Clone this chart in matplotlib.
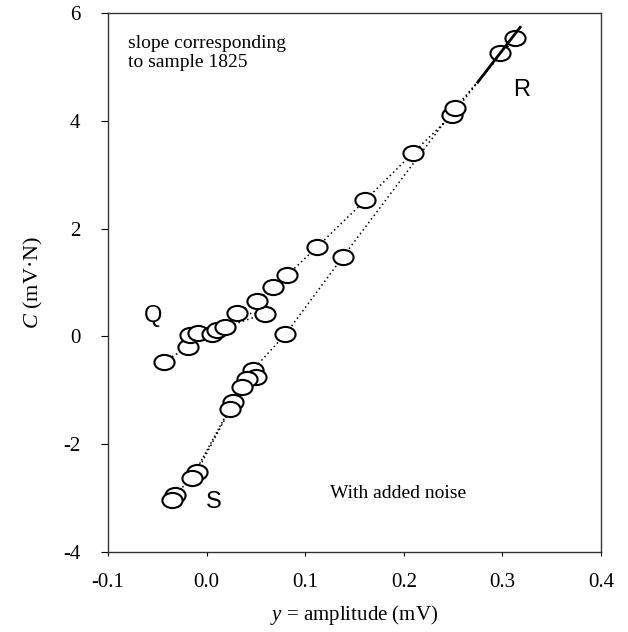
import numpy as np
import matplotlib
matplotlib.use("Agg")
import matplotlib.pyplot as plt
from matplotlib.path import Path
from matplotlib.transforms import Affine2D

# amplitude y (mV) and C (mV*N), in the order the dotted line joins them
amp = [-0.043, -0.019, -0.017, -0.009, 0.005, 0.011, 0.019, 0.059, 0.031,
       0.051, 0.067, 0.082, 0.112, 0.161, 0.209, 0.249, 0.298, 0.313,
       0.252, 0.138, 0.080, 0.047, 0.050, 0.041, 0.036, 0.027, 0.024,
       -0.010, -0.015, -0.032, -0.035]
cval = [-0.47, -0.20, 0.03, 0.06, 0.04, 0.12, 0.17, 0.42, 0.43,
        0.66, 0.92, 1.14, 1.66, 2.53, 3.40, 4.11, 5.26, 5.54,
        4.24, 1.47, 0.04, -0.62, -0.75, -0.80, -0.94, -1.22, -1.35,
        -2.52, -2.63, -2.94, -3.04]

# second dotted trace through the S segment
amp2 = [0.027, -0.015]
cval2 = [-1.22, -2.63]

# slope for sample 1825
slope_x = [0.275, 0.318]
slope_y = [4.72, 5.74]

xticks = [-0.1, 0.0, 0.1, 0.2, 0.3, 0.4]
yticks = [-4, -2, 0, 2, 4, 6]

plt.rcParams['font.family'] = ['Liberation Serif', 'DejaVu Serif']
plt.rcParams['mathtext.fontset'] = 'custom'
plt.rcParams['mathtext.rm'] = 'Liberation Serif'
plt.rcParams['mathtext.it'] = 'Liberation Serif:italic'
plt.rcParams['axes.unicode_minus'] = False

fig = plt.figure(figsize=(6.28, 6.32), dpi=100)
ax = fig.add_axes([0.172, 0.127, 0.785, 0.852])

ellipse = Path(Affine2D().scale(1.33, 1.0).transform(Path.unit_circle().vertices),
               Path.unit_circle().codes)

ax.plot(amp, cval, color='black', linestyle=(0, (1, 2)), linewidth=1.1, zorder=1)
ax.plot(amp2, cval2, color='black', linestyle=(0, (1, 1.5)), linewidth=1.1, zorder=1)
ax.plot(amp, cval, linestyle='none', marker=ellipse, markersize=14.5,
        markerfacecolor='white', markeredgecolor='black', markeredgewidth=1.5, zorder=2)
ax.plot(slope_x, slope_y, color='black', linewidth=2, zorder=3)

ax.text(0.319, 4.57, 'R', fontsize=17, family='Liberation Sans', ha='center', va='center')
ax.text(-0.054, 0.38, 'Q', fontsize=17, family='Liberation Sans', ha='center', va='center')
ax.text(0.007, -3.07, 'S', fontsize=17, family='Liberation Sans', ha='center', va='center')

ax.text(-0.08, 5.6, 'slope corresponding\nto sample 1825', fontsize=14,
        ha='left', va='top', linespacing=1.2)
ax.text(0.125, -2.92, 'With added noise', fontsize=14, ha='left', va='center')

ax.set_xlim(-0.1, 0.4)
ax.set_ylim(-4, 6)
ax.set_xticks(xticks)
ax.set_xticklabels(['%.1f' % v for v in xticks])
ax.set_yticks(yticks)
ax.tick_params(axis='x', direction='out', length=3, pad=12, labelsize=15)
ax.tick_params(axis='y', direction='out', length=5, pad=15, labelsize=15)
for s in ax.spines.values():
    s.set_color('#333333')
    s.set_linewidth(1.0)

ax.set_xlabel('$y$ = amplitude (mV)', fontsize=15, labelpad=8)
ax.set_ylabel('$C$ (mV·N)', fontsize=16, labelpad=13)

fig.savefig('out.png', dpi=100)
